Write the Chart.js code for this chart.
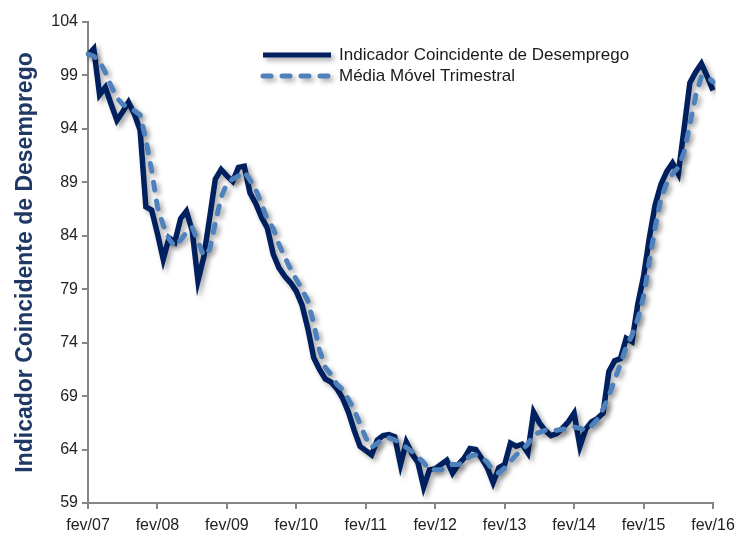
<!DOCTYPE html>
<html>
<head>
<meta charset="utf-8">
<script src="https://cdn.jsdelivr.net/npm/chart.js@4/dist/chart.umd.min.js"></script>
<style>
  html, body { margin: 0; padding: 0; background: #fff; }
  #wrap { width: 738px; height: 537px; position: relative; }
</style>
</head>
<body>
<div id="wrap"><canvas id="chart"></canvas></div>
<script>
// DATA - monthly, fev/07 to fev/16
const monthNames = ['jan', 'fev', 'mar', 'abr', 'mai', 'jun', 'jul', 'ago', 'set', 'out', 'nov', 'dez'];
const firstYear = 7;
const firstMonth = 1; // fev

const indicador = [
  100.9, 101.5, 97.2, 97.9, 96.3, 94.8, 95.6, 96.5, 95.4, 93.9,
  86.7, 86.4, 84.2, 81.8, 83.8, 83.4, 85.6, 86.3, 84.5, 79.8,
  82.0, 85.6, 89.3, 90.2, 89.6, 89.1, 90.4, 90.5, 88.0, 87.0,
  85.7, 84.7, 82.3, 81.0, 80.2, 79.6, 78.8, 77.5, 75.3, 72.6,
  71.5, 70.6, 70.3, 69.7, 68.8, 67.5, 65.8, 64.3, 63.9, 63.5,
  64.9, 65.3, 65.4, 65.2, 62.6, 64.7, 63.6, 62.8, 60.5, 62.1,
  62.2, 62.6, 63.0, 61.8, 62.6, 63.2, 64.1, 64.0, 63.2, 62.3,
  60.9, 62.3, 62.6, 64.6, 64.3, 64.5, 63.7, 67.5, 66.5, 65.8,
  65.3, 65.5, 66.0, 66.6, 67.4, 64.3, 65.9, 66.6, 66.9, 67.4,
  71.3, 72.3, 72.5, 74.4, 74.1, 77.6, 80.2, 83.8, 86.9, 88.8,
  90.0, 90.8, 89.8, 94.0, 98.3, 99.3, 100.1, 98.9, 97.6
];

const mediaMovel = [
  101.0, 100.8, 100.3, 99.3, 98.0, 96.9, 96.3, 96.0, 95.7, 95.3,
  93.0, 90.1, 86.7, 85.0, 83.7, 83.0, 83.6, 84.3, 84.8, 83.5,
  82.1, 82.7, 85.2, 87.6, 88.9, 89.3, 89.6, 90.0, 89.2, 88.3,
  87.0, 85.5, 84.7, 83.2, 82.0, 80.9, 79.9, 79.0, 77.9, 75.8,
  73.3, 71.7, 71.0, 70.1, 69.6, 68.7, 67.7, 66.4, 65.1, 64.2,
  64.6, 65.0, 65.1, 64.9, 64.6, 64.2, 63.8, 63.3, 62.8, 62.1,
  62.1, 62.1, 62.4, 62.6, 62.6, 62.8, 63.4, 63.5, 63.3, 62.8,
  62.0, 61.8, 62.3, 62.9, 63.5, 64.0, 64.5, 65.4, 65.6, 65.8,
  65.8, 65.8, 65.9, 66.0, 66.1, 66.0, 65.8, 66.2, 66.8, 67.8,
  69.0, 70.5, 72.0, 73.6, 74.7, 76.2, 78.3, 81.6, 84.8, 87.5,
  88.9, 89.8, 90.4, 91.8, 94.4, 97.1, 98.9, 98.9, 98.4
];

const yTicks = [59, 64, 69, 74, 79, 84, 89, 94, 99, 104];

// month labels like "fev/07"
const labels = indicador.map((v, i) => {
    const m = (firstMonth + i) % 12;
    const y = firstYear + Math.floor((firstMonth + i) / 12);
    return monthNames[m] + '/' + String(y).padStart(2, '0');
});

const darkBlue = '#002060';
const lightBlue = '#4F81BD';
const axisGray = '#868686';
const fontFamily = "'Liberation Sans', Arial, sans-serif";

// drop shadow under the lines
const shadowPlugin = {
    id: 'shadow',
    beforeDatasetDraw(chart) {
        const ctx = chart.ctx;
        ctx.save();
        ctx.shadowColor = 'rgba(0,0,0,0.35)';
        ctx.shadowBlur = 5;
        ctx.shadowOffsetX = 3;
        ctx.shadowOffsetY = 3;
    },
    afterDatasetDraw(chart) {
        chart.ctx.restore();
    }
};

// legend inside the plot area, top right
const legendPlugin = {
    id: 'insideLegend',
    afterDatasetsDraw(chart) {
        const ctx = chart.ctx;
        const area = chart.chartArea;
        const x0 = area.left + 175;
        const items = [
            { text: 'Indicador Coincidente de Desemprego', color: darkBlue, dash: [] },
            { text: 'Média Móvel Trimestral', color: lightBlue, dash: [8, 11] }
        ];
        items.forEach((it, i) => {
            const y = area.top + 33 + i * 21;
            ctx.save();
            ctx.shadowColor = 'rgba(0,0,0,0.35)';
            ctx.shadowBlur = 5;
            ctx.shadowOffsetX = 3;
            ctx.shadowOffsetY = 3;
            ctx.strokeStyle = it.color;
            ctx.lineWidth = 5;
            ctx.lineCap = it.dash.length ? 'round' : 'butt';
            ctx.setLineDash(it.dash);
            ctx.beginPath();
            ctx.moveTo(x0, y);
            ctx.lineTo(x0 + 68, y);
            ctx.stroke();
            ctx.restore();
            ctx.save();
            ctx.fillStyle = '#1a1a1a';
            ctx.font = '17px ' + fontFamily;
            ctx.textBaseline = 'middle';
            ctx.fillText(it.text, x0 + 76, y);
            ctx.restore();
        });
    }
};

const ctx = document.getElementById('chart').getContext('2d');
new Chart(ctx, {
    type: 'line',
    data: {
        labels: labels,
        datasets: [
            {
                label: 'Média Móvel Trimestral',
                data: mediaMovel,
                borderColor: lightBlue,
                borderWidth: 5,
                borderDash: [8, 11],
                borderCapStyle: 'round',
                pointRadius: 0,
                tension: 0,
                order: 0
            },
            {
                label: 'Indicador Coincidente de Desemprego',
                data: indicador,
                borderColor: darkBlue,
                borderWidth: 5.5,
                borderJoinStyle: 'miter',
                pointRadius: 0,
                tension: 0,
                order: 1
            }
        ]
    },
    options: {
        responsive: true,
        maintainAspectRatio: false,
        animation: false,
        layout: { padding: { left: 0, right: 25, top: 22, bottom: 0 } },
        plugins: {
            legend: { display: false },
            tooltip: { enabled: false }
        },
        scales: {
            x: {
                type: 'category',
                offset: false,
                border: { display: true, color: axisGray, width: 2 },
                grid: {
                    drawOnChartArea: false,
                    drawTicks: true,
                    tickLength: 6,
                    lineWidth: 2,
                    color: c => (c.index % 12 === 0 ? axisGray : 'transparent')
                },
                ticks: {
                    autoSkip: false,
                    maxRotation: 0,
                    color: '#222',
                    font: { family: fontFamily, size: 16 },
                    padding: 7,
                    callback: function (v, i) {
                        return i % 12 === 0 ? labels[i] : '';
                    }
                },
                afterFit: s => {
                    s.height = 34;
                    s.paddingLeft = 0;
                    s.paddingRight = 0;
                }
            },
            y: {
                min: yTicks[0],
                max: yTicks[yTicks.length - 1],
                afterBuildTicks: s => { s.ticks = yTicks.map(v => ({ value: v })); },
                border: { display: true, color: axisGray, width: 2 },
                grid: {
                    drawOnChartArea: false,
                    drawTicks: true,
                    tickLength: 6,
                    lineWidth: 2,
                    color: axisGray
                },
                ticks: {
                    color: '#222',
                    font: { family: fontFamily, size: 16 },
                    padding: 4
                },
                title: {
                    display: true,
                    text: 'Indicador Coincidente de Desemprego',
                    color: '#1F3864',
                    font: { family: fontFamily, size: 23, weight: 'bold' },
                    padding: { top: 12, bottom: 4 }
                },
                afterFit: s => { s.width = 88; }
            }
        }
    },
    plugins: [shadowPlugin, legendPlugin]
});
</script>
</body>
</html>
